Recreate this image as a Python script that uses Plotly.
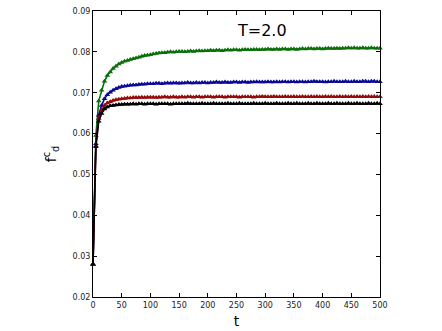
import plotly.graph_objects as go

t = list(range(0, 505, 5))

green = [0.0280, 0.0595, 0.0680, 0.0706, 0.0728, 0.0742, 0.0751, 0.0759, 0.0765, 0.0770,
         0.0774, 0.0777, 0.0779, 0.0781, 0.0783, 0.0785, 0.0787, 0.0789, 0.0791, 0.0792,
         0.0793, 0.0795, 0.0796, 0.0797, 0.0798, 0.0798, 0.0799, 0.0800, 0.0799, 0.0800,
         0.0801, 0.0801, 0.0800, 0.0801, 0.0802, 0.0801, 0.0802, 0.0803, 0.0802, 0.0803,
         0.0803, 0.0804, 0.0803, 0.0804, 0.0804, 0.0803, 0.0804, 0.0805, 0.0804, 0.0805,
         0.0805, 0.0804, 0.0805, 0.0806, 0.0805, 0.0805, 0.0806, 0.0806, 0.0805, 0.0806,
         0.0806, 0.0807, 0.0806, 0.0806, 0.0807, 0.0806, 0.0807, 0.0807, 0.0806, 0.0807,
         0.0807, 0.0806, 0.0807, 0.0808, 0.0807, 0.0808, 0.0808, 0.0807, 0.0808, 0.0808,
         0.0807, 0.0808, 0.0809, 0.0808, 0.0808, 0.0809, 0.0808, 0.0809, 0.0809, 0.0810,
         0.0809, 0.0810, 0.0809, 0.0809, 0.0810, 0.0809, 0.0809, 0.0810, 0.0809, 0.0809,
         0.0809]

blue = [0.0280, 0.0575, 0.0645, 0.0669, 0.0685, 0.0695, 0.0701, 0.0706, 0.0710, 0.0713,
        0.0715, 0.0716, 0.0717, 0.0718, 0.0719, 0.0719, 0.0720, 0.0721, 0.0721, 0.0722,
        0.0722, 0.0722, 0.0723, 0.0723, 0.0722, 0.0723, 0.0724, 0.0723, 0.0724, 0.0724,
        0.0723, 0.0724, 0.0724, 0.0725, 0.0724, 0.0724, 0.0725, 0.0724, 0.0725, 0.0725,
        0.0724, 0.0725, 0.0725, 0.0726, 0.0725, 0.0725, 0.0726, 0.0725, 0.0725, 0.0726,
        0.0726, 0.0725, 0.0726, 0.0726, 0.0725, 0.0726, 0.0726, 0.0727, 0.0726, 0.0726,
        0.0726, 0.0727, 0.0726, 0.0726, 0.0727, 0.0726, 0.0727, 0.0727, 0.0726, 0.0727,
        0.0727, 0.0726, 0.0727, 0.0727, 0.0726, 0.0727, 0.0727, 0.0728, 0.0727, 0.0727,
        0.0727, 0.0726, 0.0727, 0.0727, 0.0728, 0.0727, 0.0727, 0.0727, 0.0728, 0.0727,
        0.0727, 0.0728, 0.0727, 0.0727, 0.0728, 0.0728, 0.0727, 0.0728, 0.0728, 0.0727,
        0.0727]

red = [0.0280, 0.0570, 0.0637, 0.0657, 0.0669, 0.0675, 0.0678, 0.0681, 0.0683, 0.0684,
       0.0685, 0.0686, 0.0687, 0.0687, 0.0688, 0.0688, 0.0688, 0.0689, 0.0688, 0.0689,
       0.0689, 0.0689, 0.0688, 0.0689, 0.0689, 0.0690, 0.0689, 0.0689, 0.0690, 0.0689,
       0.0689, 0.0690, 0.0689, 0.0690, 0.0690, 0.0689, 0.0690, 0.0690, 0.0689, 0.0690,
       0.0690, 0.0690, 0.0689, 0.0690, 0.0690, 0.0690, 0.0689, 0.0690, 0.0690, 0.0690,
       0.0690, 0.0689, 0.0690, 0.0690, 0.0690, 0.0690, 0.0689, 0.0690, 0.0690, 0.0691,
       0.0690, 0.0690, 0.0690, 0.0691, 0.0690, 0.0690, 0.0690, 0.0691, 0.0690, 0.0690,
       0.0691, 0.0690, 0.0690, 0.0691, 0.0690, 0.0690, 0.0691, 0.0690, 0.0691, 0.0690,
       0.0690, 0.0691, 0.0690, 0.0691, 0.0690, 0.0690, 0.0691, 0.0690, 0.0691, 0.0690,
       0.0691, 0.0690, 0.0691, 0.0690, 0.0691, 0.0690, 0.0691, 0.0690, 0.0691, 0.0690,
       0.0690]

black = [0.0280, 0.0568, 0.0630, 0.0649, 0.0660, 0.0665, 0.0668, 0.0669, 0.0670, 0.0671,
         0.0671, 0.0672, 0.0672, 0.0672, 0.0673, 0.0672, 0.0673, 0.0673, 0.0672, 0.0673,
         0.0673, 0.0673, 0.0672, 0.0673, 0.0673, 0.0673, 0.0673, 0.0672, 0.0673, 0.0673,
         0.0673, 0.0673, 0.0673, 0.0674, 0.0673, 0.0673, 0.0673, 0.0673, 0.0674, 0.0673,
         0.0673, 0.0673, 0.0674, 0.0673, 0.0673, 0.0673, 0.0673, 0.0674, 0.0673, 0.0673,
         0.0673, 0.0674, 0.0673, 0.0673, 0.0673, 0.0673, 0.0674, 0.0673, 0.0673, 0.0673,
         0.0674, 0.0673, 0.0673, 0.0673, 0.0674, 0.0673, 0.0673, 0.0673, 0.0674, 0.0673,
         0.0673, 0.0674, 0.0673, 0.0673, 0.0673, 0.0674, 0.0673, 0.0673, 0.0674, 0.0673,
         0.0673, 0.0673, 0.0674, 0.0673, 0.0673, 0.0674, 0.0673, 0.0673, 0.0673, 0.0674,
         0.0673, 0.0673, 0.0674, 0.0673, 0.0673, 0.0673, 0.0674, 0.0673, 0.0673, 0.0674,
         0.0673]

series = [("green", green, "#0a700a"), ("blue", blue, "#0a0a96"),
          ("red", red, "#960a0a"), ("black", black, "#000000")]

x_ticks = list(range(0, 550, 50))
y_ticks = [0.02, 0.03, 0.04, 0.05, 0.06, 0.07, 0.08, 0.09]

fig = go.Figure()
for name, ys, col in series:
    fig.add_trace(go.Scatter(
        x=t, y=ys, mode="lines+markers", name=name,
        line=dict(color=col, width=1.6),
        marker=dict(symbol="triangle-up", size=5, color=col),
        showlegend=False, cliponaxis=False,
    ))

axis_common = dict(
    showline=True, linecolor="black", linewidth=1, mirror="ticks",
    ticks="inside", ticklen=4, tickcolor="black", tickwidth=1,
    showgrid=False, zeroline=False, automargin=False,
    tickfont=dict(family="DejaVu Sans", size=8, color="#222"),
)

fig.update_xaxes(range=[0, 500], tickvals=x_ticks,
                 title=dict(text="t", font=dict(family="DejaVu Sans", size=14, color="black"), standoff=7),
                 **axis_common)
fig.update_yaxes(range=[0.02, 0.09], tickvals=y_ticks, tickformat=".2f",
                 title=dict(text="f<sup>c</sup><sub>d</sub>", font=dict(family="DejaVu Sans", size=14, color="black"), standoff=12),
                 **axis_common)

fig.add_annotation(x=(262 - 93) / 287, y=1 - (31 - 11) / 286, xref="paper", yref="paper",
                   text="T=2.0", showarrow=False, xanchor="center", yanchor="middle",
                   font=dict(family="DejaVu Sans", size=16, color="black"))

fig.update_layout(
    width=442, height=331,
    margin=dict(l=93, r=62, t=11, b=34),
    plot_bgcolor="white", paper_bgcolor="white",
)

fig.write_html("out.html", config={"displayModeBar": False},
               post_script="document.body.style.margin='0';document.body.style.overflow='hidden';")
